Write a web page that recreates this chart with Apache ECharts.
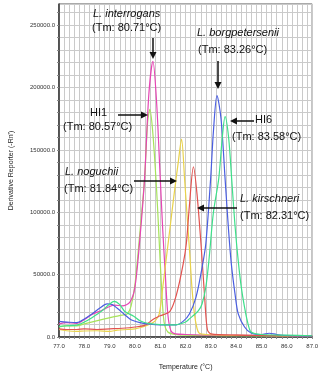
<!DOCTYPE html>
<html>
<head>
<meta charset="utf-8">
<script src="https://cdn.jsdelivr.net/npm/echarts@6/dist/echarts.min.js"></script>
<style>
  html, body { margin: 0; padding: 0; background: #fff; }
  #chart { width: 321px; height: 376px; }
</style>
</head>
<body>
<div id="chart"></div>
<script>
// melt curves, [temperature °C, derivative reporter]
const interrogans = [
  [77.0, 10500], [77.3, 11500], [77.7, 11000], [78.0, 14000], [78.3, 18000], [78.7, 21500],
  [79.0, 24500], [79.2, 25500], [79.5, 25000], [79.8, 28000], [80.0, 40000], [80.2, 80000],
  [80.38, 127000], [80.55, 195000], [80.71, 221000], [80.85, 190000], [81.0, 127000],
  [81.1, 85000], [81.2, 50000], [81.3, 18000], [81.42, 5000], [81.6, 2500], [82.0, 2000],
  [83.0, 1500], [84.0, 1500], [85.0, 1200], [86.0, 1000], [87.0, 900]
];
const hi1 = [
  [77.0, 8000], [77.3, 9000], [77.7, 9000], [78.0, 10500], [78.4, 12500], [78.8, 14500],
  [79.1, 16000], [79.5, 17500], [79.7, 18500], [79.85, 25000], [80.0, 42000], [80.2, 85000],
  [80.38, 127000], [80.5, 172000], [80.59, 182500], [80.7, 165000], [80.85, 120000],
  [80.95, 80000], [81.05, 40000], [81.15, 12000], [81.3, 4000], [81.6, 2000], [82.0, 1500],
  [83.0, 1200], [84.0, 1000], [87.0, 800]
];
const noguchii = [
  [77.0, 6000], [77.3, 5000], [77.7, 4500], [78.0, 4800], [78.5, 5000], [79.0, 4500],
  [79.3, 5500], [79.7, 6000], [80.0, 6500], [80.3, 8000], [80.6, 10500], [80.8, 13000],
  [80.96, 18500], [81.1, 40000], [81.25, 65000], [81.4, 90000], [81.55, 115000],
  [81.71, 140000], [81.84, 158700], [81.96, 127000], [82.05, 100000], [82.15, 71400],
  [82.25, 40000], [82.35, 18500], [82.45, 7000], [82.54, 3000], [82.8, 2000], [83.5, 1500],
  [85.0, 1200], [87.0, 1000]
];
const kirschneri = [
  [77.0, 6500], [77.3, 6000], [77.7, 6000], [78.0, 6500], [78.5, 6000], [79.0, 6500],
  [79.5, 7000], [80.0, 8000], [80.4, 9500], [80.74, 14500], [81.0, 17000], [81.38, 20600],
  [81.64, 34000], [81.9, 58000], [82.03, 75000], [82.15, 105000], [82.31, 136500],
  [82.45, 115000], [82.62, 71400], [82.76, 30000], [82.86, 6000], [83.0, 2500],
  [84.0, 1500], [85.0, 1200], [87.0, 1000]
];
const borgpetersenii = [
  [77.0, 12500], [77.3, 12000], [77.7, 11500], [78.0, 14500], [78.3, 18500], [78.6, 23000],
  [78.9, 26500], [79.1, 26000], [79.3, 23000], [79.56, 18500], [79.8, 14500], [79.95, 13000],
  [80.2, 11500], [80.46, 10500], [80.8, 10000], [81.2, 9800], [81.64, 9800], [81.9, 12500],
  [82.15, 18500], [82.41, 31700], [82.65, 55500], [82.8, 75000], [82.99, 127000],
  [83.1, 165000], [83.24, 193600], [83.4, 175000], [83.56, 127000], [83.7, 85000],
  [83.81, 58000], [83.95, 35000], [84.08, 18500], [84.33, 8000], [84.6, 3000], [85.0, 2000],
  [85.3, 3000], [85.6, 2000], [86.0, 1200], [87.0, 800]
];
const hi6 = [
  [77.0, 8500], [77.3, 9000], [77.7, 9500], [78.0, 12000], [78.3, 15500], [78.7, 21000],
  [79.0, 26500], [79.18, 28600], [79.4, 26000], [79.6, 20500], [79.95, 16700], [80.2, 13000],
  [80.5, 11000], [81.0, 10000], [81.6, 9800], [82.0, 12000], [82.15, 14500], [82.5, 21000],
  [82.65, 26500], [82.8, 40000], [82.92, 61000], [83.1, 100000], [83.31, 127000],
  [83.45, 160000], [83.56, 176700], [83.7, 160000], [83.82, 127000], [83.95, 90000],
  [84.08, 61000], [84.2, 40000], [84.33, 23800], [84.45, 12000], [84.59, 4000], [85.0, 2000],
  [86.0, 1500], [87.0, 1000]
];

const seriesNames = ['HI1', 'L. interrogans', 'L. noguchii', 'L. kirschneri', 'L. borgpetersenii', 'HI6'];
const seriesColors = ['#a6e35a', '#e645b4', '#e9d24a', '#e2524f', '#4a5ee0', '#3ee08a'];
const seriesData = [hi1, interrogans, noguchii, kirschneri, borgpetersenii, hi6];

const chart = echarts.init(document.getElementById('chart'));
const font = '"Liberation Sans", Arial, sans-serif';

// annotation helpers (pixel space)
function label(x, y, text, italic) {
  return {
    type: 'text', left: x, top: y, z: 10,
    style: { text, font: (italic ? 'italic ' : '') + '11px ' + font, fill: '#111' }
  };
}
function arrow(x1, y1, x2, y2) {
  const dx = x2 - x1, dy = y2 - y1;
  const len = Math.sqrt(dx * dx + dy * dy);
  const ux = dx / len, uy = dy / len;
  const hl = 7, hw = 3.5;
  const bx = x2 - ux * hl, by = y2 - uy * hl;
  return [
    { type: 'line', z: 10, shape: { x1, y1, x2: bx, y2: by }, style: { stroke: '#111', lineWidth: 1.5 } },
    { type: 'polygon', z: 10, shape: { points: [[x2, y2], [bx - uy * hw, by + ux * hw], [bx + uy * hw, by - ux * hw]] }, style: { fill: '#111' } }
  ];
}

const annotations = [
  label(93, 8, 'L. interrogans', true),
  label(92, 22, '(Tm: 80.71°C)', false),
  ...arrow(153, 38, 153, 59),
  label(90, 107, 'HI1', false),
  label(63, 121, '(Tm: 80.57°C)', false),
  ...arrow(118, 115, 148, 115),
  label(65, 166, 'L. noguchii', true),
  label(64, 183, '(Tm: 81.84°C)', false),
  ...arrow(134, 181, 177, 181),
  label(197, 27, 'L. borgpetersenii', true),
  label(198, 44, '(Tm: 83.26°C)', false),
  ...arrow(218, 61, 218, 89),
  label(255, 114, 'HI6', false),
  label(232, 131, '(Tm: 83.58°C)', false),
  ...arrow(254, 121, 230, 121),
  label(240, 193, 'L. kirschneri', true),
  label(240, 210, '(Tm: 82.31°C)', false),
  ...arrow(237, 208, 197, 208)
];

const option = {
  backgroundColor: '#fff',
  animation: false,
  grid: { left: 56, right: 5, top: 4, bottom: 36, show: true, borderColor: '#555', borderWidth: 1 },
  xAxis: {
    type: 'value',
    min: 77, max: 87, interval: 0.2,
    name: 'Temperature (°C)',
    nameLocation: 'middle',
    nameGap: 27,
    nameTextStyle: { fontSize: 7, color: '#222', fontFamily: font },
    axisLine: { lineStyle: { color: '#333', width: 1.5 } },
    axisTick: { show: true, length: 2, lineStyle: { color: '#888' } },
    axisLabel: {
      fontSize: 6, color: '#333', fontFamily: font, margin: 6,
      formatter: v => Math.abs(v - Math.round(v)) < 1e-6 ? v.toFixed(1) : ''
    },
    splitLine: { show: true, lineStyle: { color: '#cacaca', width: 1 } }
  },
  yAxis: {
    type: 'value',
    min: 0, max: 267000, interval: 10000,
    name: "Derivative Reporter (-Rn')",
    nameLocation: 'middle',
    nameGap: 44,
    nameTextStyle: { fontSize: 7, color: '#222', fontFamily: font },
    axisLine: { show: true, lineStyle: { color: '#333', width: 1.5 } },
    axisTick: { show: true, length: 2, lineStyle: { color: '#888' } },
    axisLabel: {
      fontSize: 6, color: '#333', fontFamily: font, margin: 4, showMaxLabel: false,
      formatter: v => (v % 50000 === 0 ? v.toFixed(1) : '')
    },
    splitLine: { show: true, lineStyle: { color: '#cacaca', width: 1 } }
  },
  series: seriesNames.map((name, i) => ({
    name,
    type: 'line',
    data: seriesData[i],
    smooth: 0.3,
    symbol: 'none',
    lineStyle: { color: seriesColors[i], width: 1.2 },
    z: 3
  })),
  graphic: annotations
};

chart.setOption(option);
</script>
</body>
</html>
